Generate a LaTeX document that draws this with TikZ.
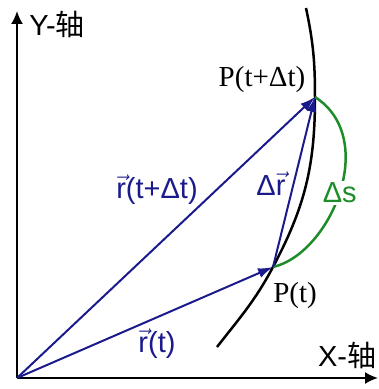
\RequirePackage{fix-cm}
\documentclass[tikz,border=0pt]{standalone}
\usepackage{fontspec}
\setmainfont{Liberation Serif}
\setsansfont{Liberation Sans}
\newfontfamily\cjk{Noto Sans CJK SC}
\usetikzlibrary{arrows.meta}
\definecolor{vecblue}{RGB}{26,26,140}
\definecolor{arcgreen}{RGB}{30,140,40}
\newcommand{\labelsize}{\fontsize{29}{32}\selectfont}
\newcommand{\vecr}{$\vec{\mbox{r}}$}
\begin{document}
\begin{tikzpicture}[
        x=1pt, y=1pt,
        axis/.style={line width=2pt, -{Latex[length=13pt,width=12pt]}},
        curve/.style={line width=2.5pt},
        vec/.style={draw=vecblue, line width=2pt, -{Latex[length=15pt,width=10pt]}},
        dsarc/.style={draw=arcgreen, line width=2.5pt},
        vlabel/.style={text=vecblue, font=\labelsize\sffamily},
        plabel/.style={font=\labelsize\rmfamily},
        axlabel/.style={font=\labelsize\sffamily}
    ]
        \useasboundingbox (0,0) rectangle (379,389);
        % axes
        \coordinate (O) at (17,11);
        \coordinate (ytip) at (17,378);
        \coordinate (xtip) at (378,11);
        \draw[axis] (O) -- (ytip);
        \draw[axis] (O) -- (xtip);
        \node[axlabel] (ylabel) at (57,365) {Y-{\cjk 轴}};
        \node[axlabel] (xlabel) at (347,34) {X-{\cjk 轴}};
        % trajectory
        \coordinate (Pt) at (273,122);
        \coordinate (Pdt) at (315,292);
        \coordinate (cbottom) at (217,42);
        \coordinate (ctop) at (306,381);
        \draw[curve] (cbottom) to[out=52,in=-118] (Pt)
            to[out=62,in=-90] (Pdt) to[out=90,in=-78] (ctop);
        % arc length
        \draw[dsarc] (Pt) .. controls (330,135) and (380,250) .. (Pdt)
            node[pos=0.5, fill=white, inner sep=2pt, text=arcgreen, font=\labelsize\sffamily] (ds) {Δs};
        % position vectors
        \draw[vec] (O) -- (Pt);
        \draw[vec] (O) -- (Pdt);
        \draw[vec] (Pt) -- (Pdt);
        \node[vlabel] (rt) at (157,45) {\vecr(t)};
        \node[vlabel] (rdt) at (157,199) {\vecr(t+Δt)};
        \node[vlabel] (dr) at (271,205) {Δ\vecr};
        \node[plabel] (pt) at (295,93) {P(t)};
        \node[plabel] (pdt) at (262,309) {P(t+Δt)};
    \end{tikzpicture}
\end{document}
